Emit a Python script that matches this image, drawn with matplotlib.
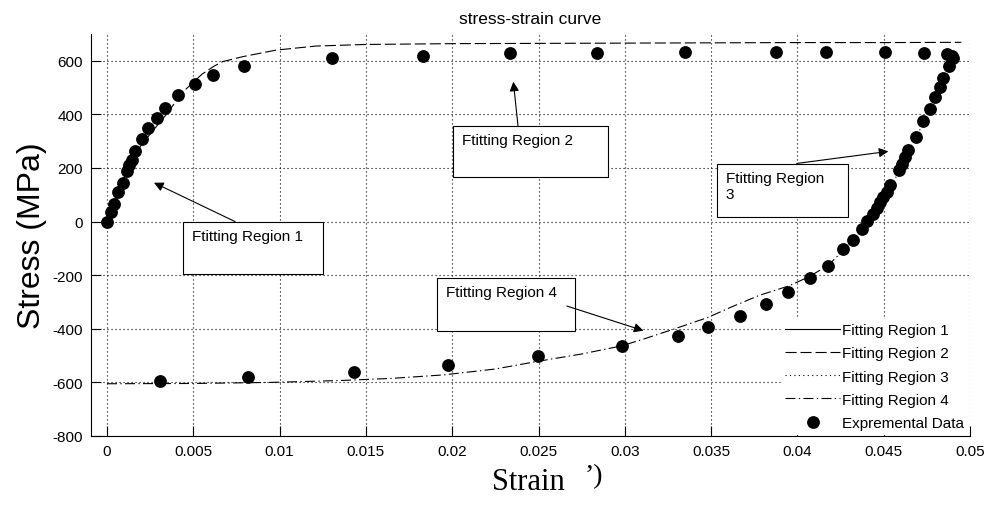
import matplotlib
matplotlib.use("Agg")
import matplotlib.pyplot as plt
from matplotlib.patches import Rectangle

exp_strain = [0.0, 0.00021, 0.00041, 0.00065, 0.00091, 0.00114, 0.0013, 0.00143, 0.00162,
              0.002, 0.00239, 0.00288, 0.00336, 0.00413, 0.0051, 0.00612, 0.00795,
              0.01302, 0.01833, 0.02335, 0.0284, 0.0335, 0.03876, 0.04164, 0.04505,
              0.04735, 0.04865, 0.04894, 0.04903,
              0.0488, 0.04845, 0.04826, 0.04797, 0.04768, 0.0473, 0.04687, 0.04643,
              0.04623, 0.04604, 0.0459, 0.04536, 0.04517, 0.04498, 0.04479, 0.0446,
              0.0444, 0.04405, 0.04373, 0.0432, 0.04266, 0.04175, 0.04073, 0.03948,
              0.0382, 0.03667, 0.03484, 0.03306, 0.02982, 0.02495, 0.01978, 0.01433,
              0.00815, 0.00307]
exp_stress = [0, 34, 67, 109, 145, 188, 210, 230, 264,
              308, 348, 386, 424, 471, 512, 546, 580,
              612, 619, 630, 630, 631, 634, 634, 634,
              630, 624, 619, 611,
              581, 534, 503, 466, 422, 374, 316, 266,
              241, 216, 191, 138, 111, 92, 73, 51,
              30, 1, -27, -67, -101, -164, -211, -263,
              -307, -353, -392, -425, -463, -500, -534, -560,
              -581, -593]

# fitted curves, points
r1_strain = [0.0, 0.0005, 0.001, 0.0015, 0.002, 0.0025, 0.003, 0.0035]
r1_stress = [0, 85, 165, 240, 287, 327, 366, 405]

r2_strain = [0.0035, 0.004, 0.0046, 0.0055, 0.0062, 0.0067, 0.0079, 0.0098, 0.0121,
             0.015, 0.02, 0.025, 0.03, 0.035, 0.04, 0.045, 0.0495]
r2_stress = [405, 450, 496, 550, 580, 597, 616, 640, 655,
             661, 664, 665, 666, 667, 668, 668, 669]

r3_strain = [0.0427, 0.0437, 0.0444, 0.0452, 0.0459, 0.0464, 0.0469, 0.0473, 0.0477,
             0.048, 0.0483, 0.0486, 0.0488, 0.049]
r3_stress = [-105, -31, 25, 107, 188, 264, 314, 373, 421,
             465, 502, 540, 581, 612]

r4_strain = [0.0, 0.005, 0.0095, 0.0135, 0.0165, 0.0195, 0.0225, 0.0249, 0.0275,
             0.0298, 0.0311, 0.0328, 0.0348, 0.0362, 0.0378, 0.0395, 0.0407, 0.0418, 0.0427]
r4_stress = [-605, -604, -600, -593, -585, -572, -550, -522, -494,
             -464, -438, -402, -358, -318, -275, -240, -205, -162, -105]

x_ticks = [0, 0.005, 0.01, 0.015, 0.02, 0.025, 0.03, 0.035, 0.04, 0.045, 0.05]
x_tick_labels = ['0', '0.005', '0.01', '0.015', '0.02', '0.025', '0.03', '0.035', '0.04', '0.045', '0.05']
y_ticks = [-800, -600, -400, -200, 0, 200, 400, 600]

# annotation boxes: (text, left, right, bottom, top, arrow tail, arrow head)
notes = [
    ('Ftitting Region 1', 0.00442, 0.01253, -195, 0, (0.00742, 0), (0.00272, 145)),
    ('Ftitting Region 2', 0.02005, 0.02903, 168, 358, (0.02381, 358), (0.02354, 522)),
    ('Ftitting Region\n3', 0.03533, 0.04295, 17, 214, (0.03996, 217), (0.04527, 262)),
    ('Ftitting Region 4', 0.01914, 0.02711, -407, -210, (0.02664, -315), (0.03108, -407)),
]

plt.rcParams['font.family'] = ['Liberation Sans', 'DejaVu Sans']
plt.rcParams['axes.unicode_minus'] = False

fig = plt.figure(figsize=(9.91, 5.06), dpi=100)
ax = fig.add_axes([91 / 991, 69 / 506, 879 / 991, 402 / 506])

ax.plot(r1_strain, r1_stress, color='k', lw=0.8, label='Fitting Region 1')
ax.plot(r2_strain, r2_stress, color='k', lw=0.8, linestyle=(0, (10, 3.5)), label='Fitting Region 2')
ax.plot(r3_strain, r3_stress, color='k', lw=0.8, linestyle=(0, (1, 3)), label='Fitting Region 3')
ax.plot(r4_strain, r4_stress, color='k', lw=0.8, linestyle=(0, (9, 3, 1.2, 3)), label='Fitting Region 4')
ax.plot(exp_strain, exp_stress, 'o', color='k', ms=8.2, label='Expremental Data', zorder=4)

ax.set_xlim(-0.00093, 0.05)
ax.set_ylim(-800, 700)
ax.set_xticks(x_ticks)
ax.set_xticklabels(x_tick_labels)
ax.set_yticks(y_ticks)
ax.tick_params(direction='in', length=7, width=0.8, labelsize=11, pad=6)
ax.spines['top'].set_visible(False)
ax.spines['right'].set_visible(False)
ax.grid(True, color='k', lw=0.8, linestyle=(0, (1, 2.6)))
ax.set_axisbelow(True)

for txt, x0, x1, y0, y1, tail, head in notes:
    ax.add_patch(Rectangle((x0, y0), x1 - x0, y1 - y0, facecolor='white',
                           edgecolor='k', lw=0.8, zorder=5))
    ax.annotate(txt, xy=(x0, y1), xytext=(6.5, -5), textcoords='offset points',
                ha='left', va='top', fontsize=11, zorder=6)
    ax.annotate('', xy=head, xytext=tail, zorder=6,
                arrowprops=dict(arrowstyle='-|>', color='k', lw=0.8,
                                mutation_scale=14, shrinkA=0, shrinkB=0))

leg = ax.legend(loc='lower right', bbox_to_anchor=(1.0, 0.0), borderaxespad=0.1,
                fontsize=11, handlelength=3.6, labelspacing=0.6, numpoints=1,
                frameon=True, fancybox=False, framealpha=1, edgecolor='white',
                handletextpad=0.1, borderpad=0.3)
leg.set_zorder(7)

ax.set_title('stress-strain curve', fontsize=12.5, pad=8)
ax.set_ylabel('Stress (MPa)', fontsize=23, labelpad=4)
fig.text(528 / 991, 1 - 482 / 506, 'Strain', fontsize=22, family='Liberation Serif',
         ha='center', va='center')
fig.text(594 / 991, 1 - 477 / 506, '\u2019)', fontsize=20, family='Liberation Serif',
         ha='center', va='center')

fig.savefig('out.png', dpi=100)
